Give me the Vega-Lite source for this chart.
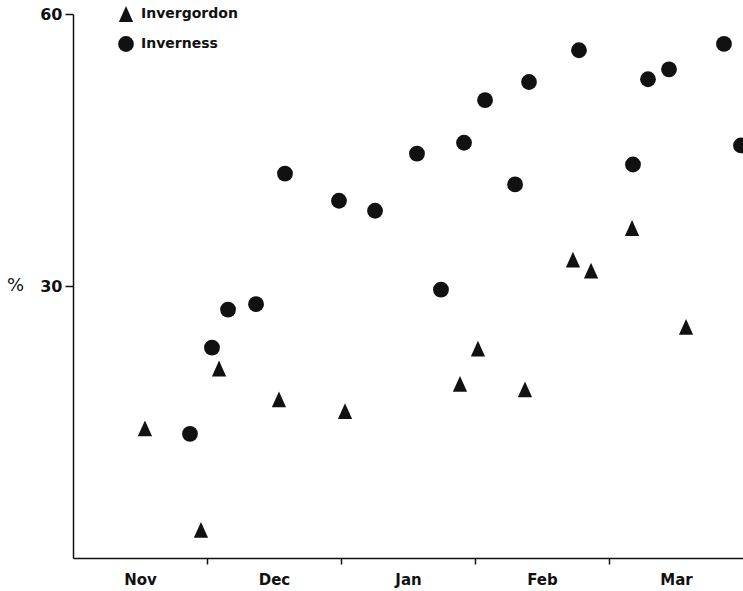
{
  "$schema": "https://vega.github.io/schema/vega-lite/v6.json",
  "width": 670,
  "height": 544,
  "autosize": {"type": "none"},
  "padding": {"left": 73, "top": 14, "right": 0, "bottom": 33},
  "background": "white",
  "config": {"view": {"stroke": null}, "font": "DejaVu Sans"},
  "data": {
    "values": [
      {"site": "Inverness", "month": 0.873, "pct": 13.7},
      {"site": "Inverness", "month": 1.037, "pct": 23.2},
      {"site": "Inverness", "month": 1.157, "pct": 27.4},
      {"site": "Inverness", "month": 1.366, "pct": 28.0},
      {"site": "Inverness", "month": 1.582, "pct": 42.4},
      {"site": "Inverness", "month": 1.985, "pct": 39.4},
      {"site": "Inverness", "month": 2.254, "pct": 38.3},
      {"site": "Inverness", "month": 2.567, "pct": 44.6},
      {"site": "Inverness", "month": 2.746, "pct": 29.6},
      {"site": "Inverness", "month": 2.918, "pct": 45.8},
      {"site": "Inverness", "month": 3.075, "pct": 50.5},
      {"site": "Inverness", "month": 3.299, "pct": 41.2},
      {"site": "Inverness", "month": 3.403, "pct": 52.5},
      {"site": "Inverness", "month": 3.776, "pct": 56.0},
      {"site": "Inverness", "month": 4.179, "pct": 43.4},
      {"site": "Inverness", "month": 4.291, "pct": 52.8},
      {"site": "Inverness", "month": 4.448, "pct": 53.9},
      {"site": "Inverness", "month": 4.858, "pct": 56.7},
      {"site": "Inverness", "month": 4.985, "pct": 45.5},
      {"site": "Invergordon", "month": 0.537, "pct": 14.3},
      {"site": "Invergordon", "month": 0.955, "pct": 3.1},
      {"site": "Invergordon", "month": 1.09, "pct": 20.9},
      {"site": "Invergordon", "month": 1.537, "pct": 17.5},
      {"site": "Invergordon", "month": 2.03, "pct": 16.2},
      {"site": "Invergordon", "month": 2.888, "pct": 19.2},
      {"site": "Invergordon", "month": 3.022, "pct": 23.1},
      {"site": "Invergordon", "month": 3.373, "pct": 18.6},
      {"site": "Invergordon", "month": 3.731, "pct": 32.9},
      {"site": "Invergordon", "month": 3.866, "pct": 31.7},
      {"site": "Invergordon", "month": 4.172, "pct": 36.4},
      {"site": "Invergordon", "month": 4.575, "pct": 25.5}
    ]
  },
  "mark": {"type": "point", "filled": true, "opacity": 1, "size": 250},
  "encoding": {
    "x": {
      "field": "month",
      "type": "quantitative",
      "scale": {"domain": [0, 5], "nice": false, "zero": false},
      "axis": {
        "title": null,
        "grid": false,
        "values": [0.5, 1, 1.5, 2, 2.5, 3, 3.5, 4, 4.5],
        "labelExpr": "datum.value % 1 == 0 ? '' : ['Nov','Dec','Jan','Feb','Mar'][floor(datum.value)]",
        "tickOpacity": {"condition": {"test": "datum.value % 1 == 0", "value": 1}, "value": 0},
        "domainColor": "#111",
        "domainWidth": 1.5,
        "tickColor": "#111",
        "tickWidth": 1.5,
        "tickSize": 6,
        "labelColor": "#111",
        "labelFont": "DejaVu Sans",
        "labelFontWeight": "bold",
        "labelFontSize": 15,
        "labelPadding": 8,
        "labelFlush": false,
        "labelOverlap": false
      }
    },
    "y": {
      "field": "pct",
      "type": "quantitative",
      "scale": {"domain": [0, 60], "nice": false},
      "axis": {
        "title": "%",
        "titleAngle": 0,
        "titleX": -58,
        "titleY": 271,
        "titleAlign": "center",
        "titleBaseline": "middle",
        "titleFontSize": 18,
        "titleFontWeight": "normal",
        "titleColor": "#111",
        "grid": false,
        "values": [30, 60],
        "domainColor": "#111",
        "domainWidth": 1.5,
        "tickColor": "#111",
        "tickWidth": 1.5,
        "tickSize": 8,
        "labelColor": "#111",
        "labelFont": "DejaVu Sans",
        "labelFontWeight": "bold",
        "labelFontSize": 16,
        "labelPadding": 3
      }
    },
    "shape": {
      "field": "site",
      "type": "nominal",
      "scale": {"domain": ["Invergordon", "Inverness"], "range": ["M0,-1L-0.9,1L0.9,1Z", "circle"]},
      "legend": {
        "title": null,
        "orient": "none",
        "legendX": 45,
        "legendY": -8,
        "padding": 0,
        "rowPadding": 14,
        "labelOffset": 7,
        "symbolSize": 250,
        "labelFont": "DejaVu Sans",
        "labelFontWeight": "bold",
        "labelFontSize": 14,
        "labelColor": "#111",
        "symbolStrokeWidth": 0
      }
    },
    "color": {
      "field": "site",
      "type": "nominal",
      "scale": {"domain": ["Invergordon", "Inverness"], "range": ["#111", "#111"]},
      "legend": {
        "title": null,
        "orient": "none",
        "legendX": 45,
        "legendY": -8,
        "padding": 0,
        "rowPadding": 14,
        "labelOffset": 7,
        "symbolSize": 250,
        "labelFont": "DejaVu Sans",
        "labelFontWeight": "bold",
        "labelFontSize": 14,
        "labelColor": "#111",
        "symbolStrokeWidth": 0
      }
    }
  }
}
